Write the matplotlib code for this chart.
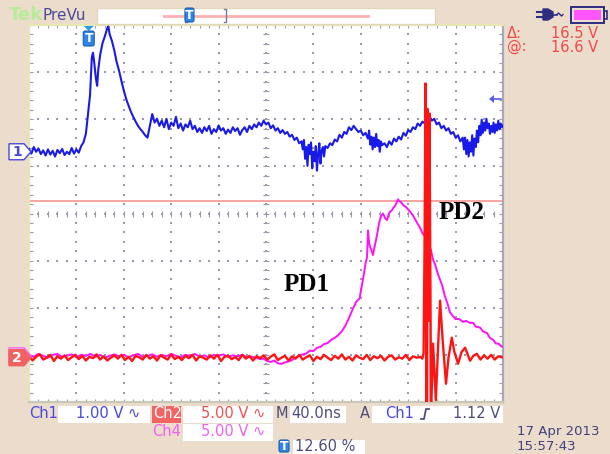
import numpy as np
import matplotlib
matplotlib.use('Agg')
import matplotlib.pyplot as plt
from matplotlib.patches import Rectangle, Polygon, FancyBboxPatch

# ---------------- data (time in ns from left edge of screen, volts) ----------------
time_per_div_ns = 40.0
ch1_volts_per_div = 1.00
ch2_volts_per_div = 5.00
ch4_volts_per_div = 5.00
ch1_ground_div = 5.31
ch2_ground_div = 0.94
ch4_ground_div = 0.98
trigger_pos_pct = 12.60
trigger_level_v = 1.12
cursor_at_v = 16.6
cursor_delta_v = 16.5

ch1_time = [0, 2, 4, 6, 8, 10, 12, 14, 16, 18,
            20, 22, 24, 26, 28, 30, 32, 34, 36, 38,
            40, 42, 44, 46, 48, 50, 51.5, 53, 54, 55,
            56.5, 57.5, 58.5, 60, 62, 64, 66, 67, 68, 70,
            72, 74, 76, 78, 80, 82, 84, 86, 88, 90,
            92, 94, 96, 98, 100, 102, 104, 106, 108, 110,
            112, 114, 116, 118, 120, 122, 124, 126, 128, 130,
            132, 134, 136, 138, 140, 142, 144, 146, 148, 150,
            152, 154, 156, 158, 160, 162, 164, 166, 168, 170,
            172, 174, 176, 178, 180, 182, 184, 186, 188, 190,
            192, 194, 196, 198, 200, 202, 204, 206, 208, 210,
            212, 214, 216, 218, 220, 222, 224, 226, 228, 230,
            231, 232, 233, 234, 235, 236, 237, 238, 239, 240,
            241, 242, 243, 244, 245, 246, 247, 248, 249, 250,
            252, 254, 256, 258, 260, 262, 264, 266, 268, 270,
            272, 274, 276, 278, 280, 282, 284, 286, 287, 288,
            289, 290, 291, 292, 293, 294, 295, 296, 297, 298,
            300, 302, 304, 306, 308, 310, 312, 314, 316, 318,
            320, 322, 324, 326, 328, 330, 332, 334, 336, 338,
            340, 342, 344, 346, 348, 350, 352, 354, 356, 358,
            360, 362, 364, 366, 367, 368, 369, 370, 371, 372,
            373, 374, 375, 376, 377, 378, 379, 380, 381, 382,
            383, 384, 385, 386, 387, 388, 389, 390, 391, 392,
            393, 394, 395, 396, 397, 398, 399, 400]
ch1_volts = [0.06, -0.04, 0.10, 0.00, 0.07, -0.05, 0.03, -0.08, 0.05, -0.06,
             0.02, -0.10, 0.04, -0.03, 0.06, -0.07, 0.00, -0.05, 0.08, -0.04,
             0.05, -0.02, 0.12, 0.20, 0.38, 0.85, 1.20, 2.00, 2.10, 1.90,
             1.55, 1.40, 1.75, 2.05, 2.30, 2.45, 2.62, 2.66, 2.50, 2.35,
             2.15, 1.90, 1.72, 1.50, 1.30, 1.12, 0.98, 0.85, 0.74, 0.64,
             0.55, 0.48, 0.42, 0.35, 0.30, 0.55, 0.80, 0.62, 0.70, 0.55,
             0.66, 0.52, 0.70, 0.48, 0.62, 0.55, 0.74, 0.50, 0.60, 0.45,
             0.58, 0.52, 0.66, 0.48, 0.55, 0.42, 0.50, 0.40, 0.52, 0.44,
             0.55, 0.38, 0.48, 0.42, 0.56, 0.45, 0.50, 0.38, 0.47, 0.40,
             0.52, 0.44, 0.50, 0.36, 0.46, 0.52, 0.42, 0.55, 0.48, 0.58,
             0.52, 0.62, 0.55, 0.66, 0.58, 0.62, 0.50, 0.56, 0.45, 0.50,
             0.40, 0.46, 0.38, 0.42, 0.32, 0.36, 0.25, 0.30, 0.18, 0.22,
             0.05, 0.25, -0.15, 0.10, -0.30, 0.15, -0.05, 0.20, -0.35, 0.00,
             -0.20, 0.12, -0.40, -0.05, 0.18, -0.25, 0.02, 0.10, -0.10, 0.12,
             0.08, 0.18, 0.14, 0.26, 0.22, 0.36, 0.30, 0.42, 0.38, 0.52,
             0.46, 0.55, 0.48, 0.42, 0.45, 0.35, 0.40, 0.28, 0.45, 0.15,
             0.32, 0.05, 0.30, 0.10, 0.38, 0.12, 0.25, 0.00, 0.22, 0.14,
             0.18, 0.10, 0.22, 0.15, 0.28, 0.22, 0.32, 0.26, 0.40, 0.34,
             0.46, 0.42, 0.52, 0.48, 0.60, 0.55, 0.64, 0.60, 0.72, 0.75,
             0.66, 0.70, 0.58, 0.62, 0.50, 0.55, 0.45, 0.50, 0.38, 0.42,
             0.30, 0.35, 0.22, 0.30, 0.05, 0.30, -0.05, 0.25, -0.10, 0.20,
             0.00, 0.35, -0.08, 0.28, 0.10, 0.45, 0.20, 0.55, 0.35, 0.68,
             0.40, 0.62, 0.45, 0.70, 0.50, 0.60, 0.38, 0.55, 0.42, 0.62,
             0.40, 0.58, 0.45, 0.66, 0.48, 0.60, 0.52, 0.56]

ch2_time = [0, 3, 6, 9, 12, 15, 18, 21, 24, 27,
            30, 33, 36, 39, 42, 45, 48, 51, 54, 57,
            60, 63, 66, 69, 72, 75, 78, 81, 84, 87,
            90, 93, 96, 99, 102, 105, 108, 111, 114, 117,
            120, 123, 126, 129, 132, 135, 138, 141, 144, 147,
            150, 153, 156, 159, 162, 165, 168, 171, 174, 177,
            180, 183, 186, 189, 192, 195, 198, 201, 204, 207,
            210, 213, 216, 219, 222, 225, 228, 231, 234, 237,
            240, 243, 246, 249, 252, 255, 258, 261, 264, 267,
            270, 273, 276, 279, 282, 285, 288, 291, 294, 297,
            300, 303, 306, 309, 312, 315, 318, 321, 324, 327,
            330, 332, 333, 333.8, 334.6, 335.5, 336.3, 337.2, 338.0, 339.3,
            341, 343.3, 346.9, 349, 351.9, 354, 356.8, 359, 362.1, 365,
            368, 372.2, 375, 377.9, 381, 384, 387, 390, 393, 396,
            399]
ch2_volts = [0.2, -0.3, 0.1, 0.35, -0.2, 0.0, 0.3, -0.35, 0.15, -0.1,
             0.25, -0.25, 0.05, 0.3, -0.15, 0.2, -0.3, 0.1, -0.05, 0.35,
             -0.2, 0.15, -0.3, 0.0, 0.25, -0.1, 0.3, -0.25, 0.1, -0.35,
             0.2, 0.05, -0.2, 0.3, -0.1, 0.15, -0.3, 0.25, 0.0, -0.2,
             0.35, -0.15, 0.1, -0.25, 0.2, -0.05, 0.3, -0.3, 0.15, 0.0,
             -0.2, 0.25, -0.1, 0.3, -0.35, 0.1, 0.2, -0.15, 0.05, -0.25,
             0.3, -0.1, 0.2, -0.3, 0.15, -0.05, 0.25, -0.2, 0.1, 0.35,
             -0.25, 0.0, 0.2, -0.3, 0.15, -0.1, 0.3, -0.2, 0.05, 0.25,
             -0.35, 0.1, -0.15, 0.3, 0.0, -0.25, 0.2, -0.1, 0.35, -0.2,
             0.1, -0.3, 0.25, 0.0, -0.15, 0.3, -0.25, 0.15, -0.05, 0.2,
             -0.3, 0.1, 0.25, -0.2, 0.05, -0.1, 0.3, -0.25, 0.15, 0.0,
             0.1, -0.1, 0.5, 12.0, 29.1, -6.0, 26.4, 3.9, 25.9, -6.0,
             1.5, -4.5, 6.05, 2.0, -2.76, 0.0, 2.12, 0.6, -0.64, 0.6,
             1.06, -0.32, 0.2, 0.42, -0.2, 0.25, -0.1, 0.3, -0.2, 0.15,
             0.05]

ch4_time = [0, 4, 8, 12, 16, 20, 24, 28, 32, 36,
            40, 44, 48, 52, 56, 60, 64, 68, 72, 76,
            80, 84, 88, 92, 96, 100, 104, 108, 112, 116,
            120, 124, 128, 132, 136, 140, 144, 148, 152, 156,
            160, 164, 168, 172, 176, 180, 184, 188, 192, 195,
            198, 201, 204, 207, 210, 213, 216, 219, 222, 225,
            228, 231, 234, 237, 240, 243, 246, 249, 252, 255,
            258, 261, 264, 267, 270, 273, 276, 279, 281, 282.5,
            284, 285.3, 286.1, 287, 287.8, 289.5, 290.3, 291, 292, 293.7,
            295, 296.2, 297.5, 298.8, 300.5, 302.2, 303.5, 304.7, 306, 307.5,
            308.9, 310, 311.4, 312.5, 314, 315.7, 318, 321.6, 324, 325.8,
            328, 330, 332, 334.2, 336.8, 339, 341, 342.7, 345, 348.6,
            351, 353, 355.3, 357.9, 360, 363, 366.3, 369, 372, 374.7,
            377, 380.6, 383, 386.6, 389, 391.6, 394, 396, 399.2]
ch4_volts = [0.1, -0.1, 0.2, 0.0, -0.2, 0.1, 0.2, -0.1, 0.0, 0.15,
             -0.15, 0.1, 0.0, 0.2, -0.1, 0.1, -0.2, 0.0, 0.15, -0.05,
             0.1, -0.15, 0.05, 0.2, -0.1, 0.0, 0.15, -0.1, 0.1, -0.05,
             0.2, 0.0, -0.15, 0.1, 0.0, 0.2, -0.1, 0.05, -0.2, 0.1,
             0.0, 0.15, -0.1, 0.05, -0.05, 0.1, -0.15, -0.1, -0.2, -0.35,
             -0.3, -0.55, -0.65, -0.5, -0.8, -0.85, -0.7, -0.6, -0.45, -0.2,
             0.0, 0.15, 0.25, 0.55, 0.5, 0.85, 0.95, 1.25, 1.35, 1.7,
             1.9, 2.2, 2.6, 3.2, 4.0, 4.9, 5.7, 6.1, 7.5, 8.6,
             9.8, 10.5, 13.3, 12.0, 11.6, 11.0, 10.7, 11.2, 11.8, 12.8,
             13.8, 14.5, 14.9, 15.1, 14.6, 14.4, 15.0, 15.3, 15.4, 15.7,
             15.9, 16.2, 16.6, 16.4, 16.3, 16.0, 15.8, 15.3, 14.9, 14.5,
             14.0, 13.6, 13.0, 12.7, 11.6, 11.3, 10.2, 9.7, 8.7, 7.5,
             6.3, 5.6, 4.6, 4.2, 3.9, 3.9, 3.6, 3.7, 3.5, 3.5,
             3.1, 3.0, 2.6, 2.4, 1.9, 1.7, 1.3, 1.3, 0.96]

# ---------------- figure ----------------
W, H = 610, 454
BG = '#ECDCCB'
fig = plt.figure(figsize=(W / 100, H / 100), dpi=100)
fig.patch.set_facecolor(BG)

L, T, R, B = 29, 25, 503, 402   # screen graticule in pixels
ax = fig.add_axes([L / W, 1 - B / H, (R - L) / W, (B - T) / H])
n_hdiv, n_vdiv = 10, 8
x_max = n_hdiv * time_per_div_ns
ax.set_xlim(0, x_max)
ax.set_ylim(0, n_vdiv)
ax.set_facecolor('white')
ax.set_xticks([]); ax.set_yticks([])
for side, col in [('top', '#E6E6B4'), ('left', '#E6E6B4'),
                  ('bottom', '#C8C8B8'), ('right', '#A8A8B8')]:
    ax.spines[side].set_color(col)
    ax.spines[side].set_linewidth(1.6)

# graticule dots
dot_col = '#9A9AAE'
minor_x = np.arange(0, x_max + 0.1, time_per_div_ns / 5)
minor_y = np.arange(0, n_vdiv + 0.01, 0.2)
for k in range(1, n_hdiv):
    xv = k * time_per_div_ns
    ax.scatter(np.full_like(minor_y, xv), minor_y, s=1.2, color=dot_col, marker='s', lw=0, zorder=1)
for k in range(1, n_vdiv):
    ax.scatter(minor_x, np.full_like(minor_x, k), s=1.2, color=dot_col, marker='s', lw=0, zorder=1)
# center cross ticks
ax.plot(minor_x, np.full_like(minor_x, n_vdiv / 2), ls='none', marker='|', ms=5, mew=0.8, color=dot_col, zorder=1)
ax.plot(np.full_like(minor_y, x_max / 2), minor_y, ls='none', marker='_', ms=5, mew=0.8, color=dot_col, zorder=1)
# edge ticks
ax.plot(minor_x, np.full_like(minor_x, n_vdiv - 0.03), ls='none', marker='|', ms=3, mew=0.8, color=dot_col, zorder=1)
ax.plot(minor_x, np.full_like(minor_x, 0.03), ls='none', marker='|', ms=3, mew=0.8, color=dot_col, zorder=1)
ax.plot(np.full_like(minor_y, 1.5), minor_y, ls='none', marker='_', ms=3, mew=0.8, color=dot_col, zorder=1)
ax.plot(np.full_like(minor_y, x_max - 1.5), minor_y, ls='none', marker='_', ms=3, mew=0.8, color=dot_col, zorder=1)

# cursor line (ch2 volts)
ax.axhline(ch2_ground_div + cursor_at_v / ch2_volts_per_div, color='#F7A4A4', lw=1.4, zorder=2)

# traces
t1 = np.array(ch1_time); v1 = np.array(ch1_volts)
t2 = np.array(ch2_time); v2 = np.array(ch2_volts)
t4 = np.array(ch4_time); v4 = np.array(ch4_volts)
y2 = ch2_ground_div + v2 / ch2_volts_per_div

# faint persistence band behind the tall PD2 spikes
tall = v2 > 4 * ch2_volts_per_div
ax.fill_between([t2[tall].min() - 0.6, t2[tall].max()], 0, 4.7,
                color='#F9B4B4', lw=0, zorder=2)

ax.plot(t4, ch4_ground_div + v4 / ch4_volts_per_div, color='#FF10FF', lw=1.4, zorder=3)
ax.plot(t1, ch1_ground_div + v1 / ch1_volts_per_div, color='#1A1AE8', lw=1.5, zorder=4)
ax.plot(t2, y2, color='#FF1414', lw=1.7, zorder=5)

# annotations
ax.text(234, 2.5, 'PD1', fontsize=18, fontweight='bold', family='Liberation Serif',
        ha='center', va='center', zorder=6)
ax.text(365, 4.03, 'PD2', fontsize=18, fontweight='bold', family='Liberation Serif',
        ha='center', va='center', zorder=6)

# ---------------- overlay in pixel coordinates ----------------
ov = fig.add_axes([0, 0, 1, 1], facecolor='none')
ov.set_xlim(0, W); ov.set_ylim(H, 0); ov.axis('off')

def px_x(t):
    return L + (R - L) * t / x_max

def px_y(div):
    return B - (B - T) * div / n_vdiv

def t_icon(xc, ytop, h=15, w=11):
    ov.add_patch(FancyBboxPatch((xc - w / 2, ytop), w, h, boxstyle='round,pad=0,rounding_size=2',
                                fc='#2F86E6', ec='#1A5FB0', lw=0.8, zorder=10))
    ov.text(xc, ytop + h / 2 + 0.5, 'T', color='white', fontsize=9, fontweight='bold',
            ha='center', va='center', zorder=11)

# top bar
ov.text(9, 15, 'Tek', color='#B6EC98', fontsize=13, fontweight='bold', va='center', ha='left')
ov.text(43, 15, 'PreVu', color='#4A4A98', fontsize=11, va='center', ha='left')
ov.add_patch(Rectangle((97, 7.5), 338, 16, fc='white', ec='#E0D8B8', lw=1))
ov.plot([164, 368], [16, 16], color='#FFB0B0', lw=2)
ov.plot([187, 185, 185, 187], [9, 9, 22, 22], color='#7A7A96', lw=1)
ov.plot([224, 226, 226, 224], [9, 9, 22, 22], color='#7A7A96', lw=1)
t_icon(189.5, 8, h=14, w=9)

# plug + battery
pc = '#2E2E80'
ov.plot([537, 543], [12, 12], color=pc, lw=1.5)
ov.plot([537, 543], [17, 17], color=pc, lw=1.5)
ov.add_patch(Polygon([(543, 9), (548, 9), (553, 12), (553, 17), (548, 20), (543, 20)], fc=pc, ec=pc))
ov.plot([553, 557], [14.5, 14.5], color=pc, lw=1.2)
ov.plot([557, 558.5, 560, 561.5, 563], [14.5, 13, 14.5, 16, 14.5], color=pc, lw=1.0)
ov.add_patch(Rectangle((571, 7), 33, 16, fc='none', ec=pc, lw=1.4))
ov.add_patch(Rectangle((574, 10), 27, 10, fc='#FF55FF', ec='none'))
ov.add_patch(Rectangle((604, 11), 3, 8, fc='none', ec=pc, lw=1.2))

# cursor readouts
rc = '#F04A4A'
ov.text(507, 33, 'Δ:', color=rc, fontsize=10.5, va='center', ha='left')
ov.text(598, 33, f'{cursor_delta_v:.1f} V', color=rc, fontsize=10.5, va='center', ha='right')
ov.text(507, 47, '@:', color=rc, fontsize=10.5, va='center', ha='left')
ov.text(598, 47, f'{cursor_at_v:.1f} V', color=rc, fontsize=10.5, va='center', ha='right')

# channel ground markers
def marker(yc, fc, ec, txt, tc):
    ov.add_patch(Polygon([(9, yc - 8), (24, yc - 8), (31, yc), (24, yc + 8), (9, yc + 8)],
                         closed=True, fc=fc, ec=ec, lw=1, zorder=8))
    ov.text(17, yc + 0.5, txt, color=tc, fontsize=10, fontweight='bold', ha='center', va='center', zorder=9)

marker(px_y(ch4_ground_div), BG, '#FF60FF', '', '#FF60FF')
marker(px_y(ch2_ground_div), '#F06262', '#F06262', '2', 'white')
marker(px_y(ch1_ground_div), 'white', '#4848E0', '1', '#4848E0')

# trigger position marker (top of screen)
trig_x = px_x(trigger_pos_pct / 100 * x_max)
ov.add_patch(Polygon([(trig_x - 5, 26), (trig_x + 5, 26), (trig_x, 31)], fc='#2F9BE6', ec='none', zorder=10))
t_icon(trig_x, 31, h=15, w=11)

# trigger level arrow (right edge)
lvl_y = px_y(ch1_ground_div + trigger_level_v / ch1_volts_per_div)
ov.add_patch(Polygon([(489, lvl_y), (494, lvl_y - 4), (494, lvl_y + 4)], fc='#5A5AF0', ec='none', zorder=10))
ov.plot([494, 501], [lvl_y, lvl_y], color='#5A5AF0', lw=1.2, zorder=10)

# bottom readouts
fs = 10.5
blue_t = '#4848E0'; red_t = '#F05050'; mag_t = '#F060F0'; grey_t = '#4E4E7C'
ov.text(29, 414, 'Ch1', color=blue_t, fontsize=fs, va='center')
ov.add_patch(Rectangle((58, 406), 92, 17, fc='white', ec='none'))
ov.text(76, 414, f'{ch1_volts_per_div:.2f} V ∿', color=blue_t, fontsize=fs, va='center')
ov.add_patch(Rectangle((152, 406), 29, 17, fc='#F06464', ec='none'))
ov.text(153, 414, 'Ch2', color='white', fontsize=fs, va='center')
ov.add_patch(Rectangle((183, 406), 90, 17, fc='white', ec='none'))
ov.text(201, 414, f'{ch2_volts_per_div:.2f} V ∿', color=red_t, fontsize=fs, va='center')
ov.text(276, 414, 'M', color=grey_t, fontsize=fs, va='center')
ov.add_patch(Rectangle((290, 406), 56, 17, fc='white', ec='none'))
ov.text(291, 414, f'{time_per_div_ns:.1f}ns', color=grey_t, fontsize=fs, va='center')
ov.text(360, 414, 'A', color=grey_t, fontsize=fs, va='center')
ov.add_patch(Rectangle((372, 406), 131, 17, fc='white', ec='none'))
ov.text(385, 414, 'Ch1', color=blue_t, fontsize=fs, va='center')
ov.plot([421, 424, 426, 429], [419, 419, 409, 409], color=grey_t, lw=1.3)
ov.text(500, 414, f'{trigger_level_v:.2f} V', color=grey_t, fontsize=fs, va='center', ha='right')

ov.text(152, 432, 'Ch4', color=mag_t, fontsize=fs, va='center')
ov.add_patch(Rectangle((183, 424), 90, 17, fc='white', ec='none'))
ov.text(201, 432, f'{ch4_volts_per_div:.2f} V ∿', color=mag_t, fontsize=fs, va='center')

t_icon(284, 440, h=12, w=10)
ov.add_patch(Rectangle((293, 440), 72, 14, fc='white', ec='none'))
ov.text(295, 446.5, f'{trigger_pos_pct:.2f} %', color=grey_t, fontsize=fs, va='center')

ov.text(517, 425, '17 Apr 2013', color='#42427C', fontsize=9.5, va='top')
ov.text(517, 453, '15:57:43', color='#42427C', fontsize=9.5, va='bottom')

fig.savefig('out.png', dpi=100, facecolor=BG)
